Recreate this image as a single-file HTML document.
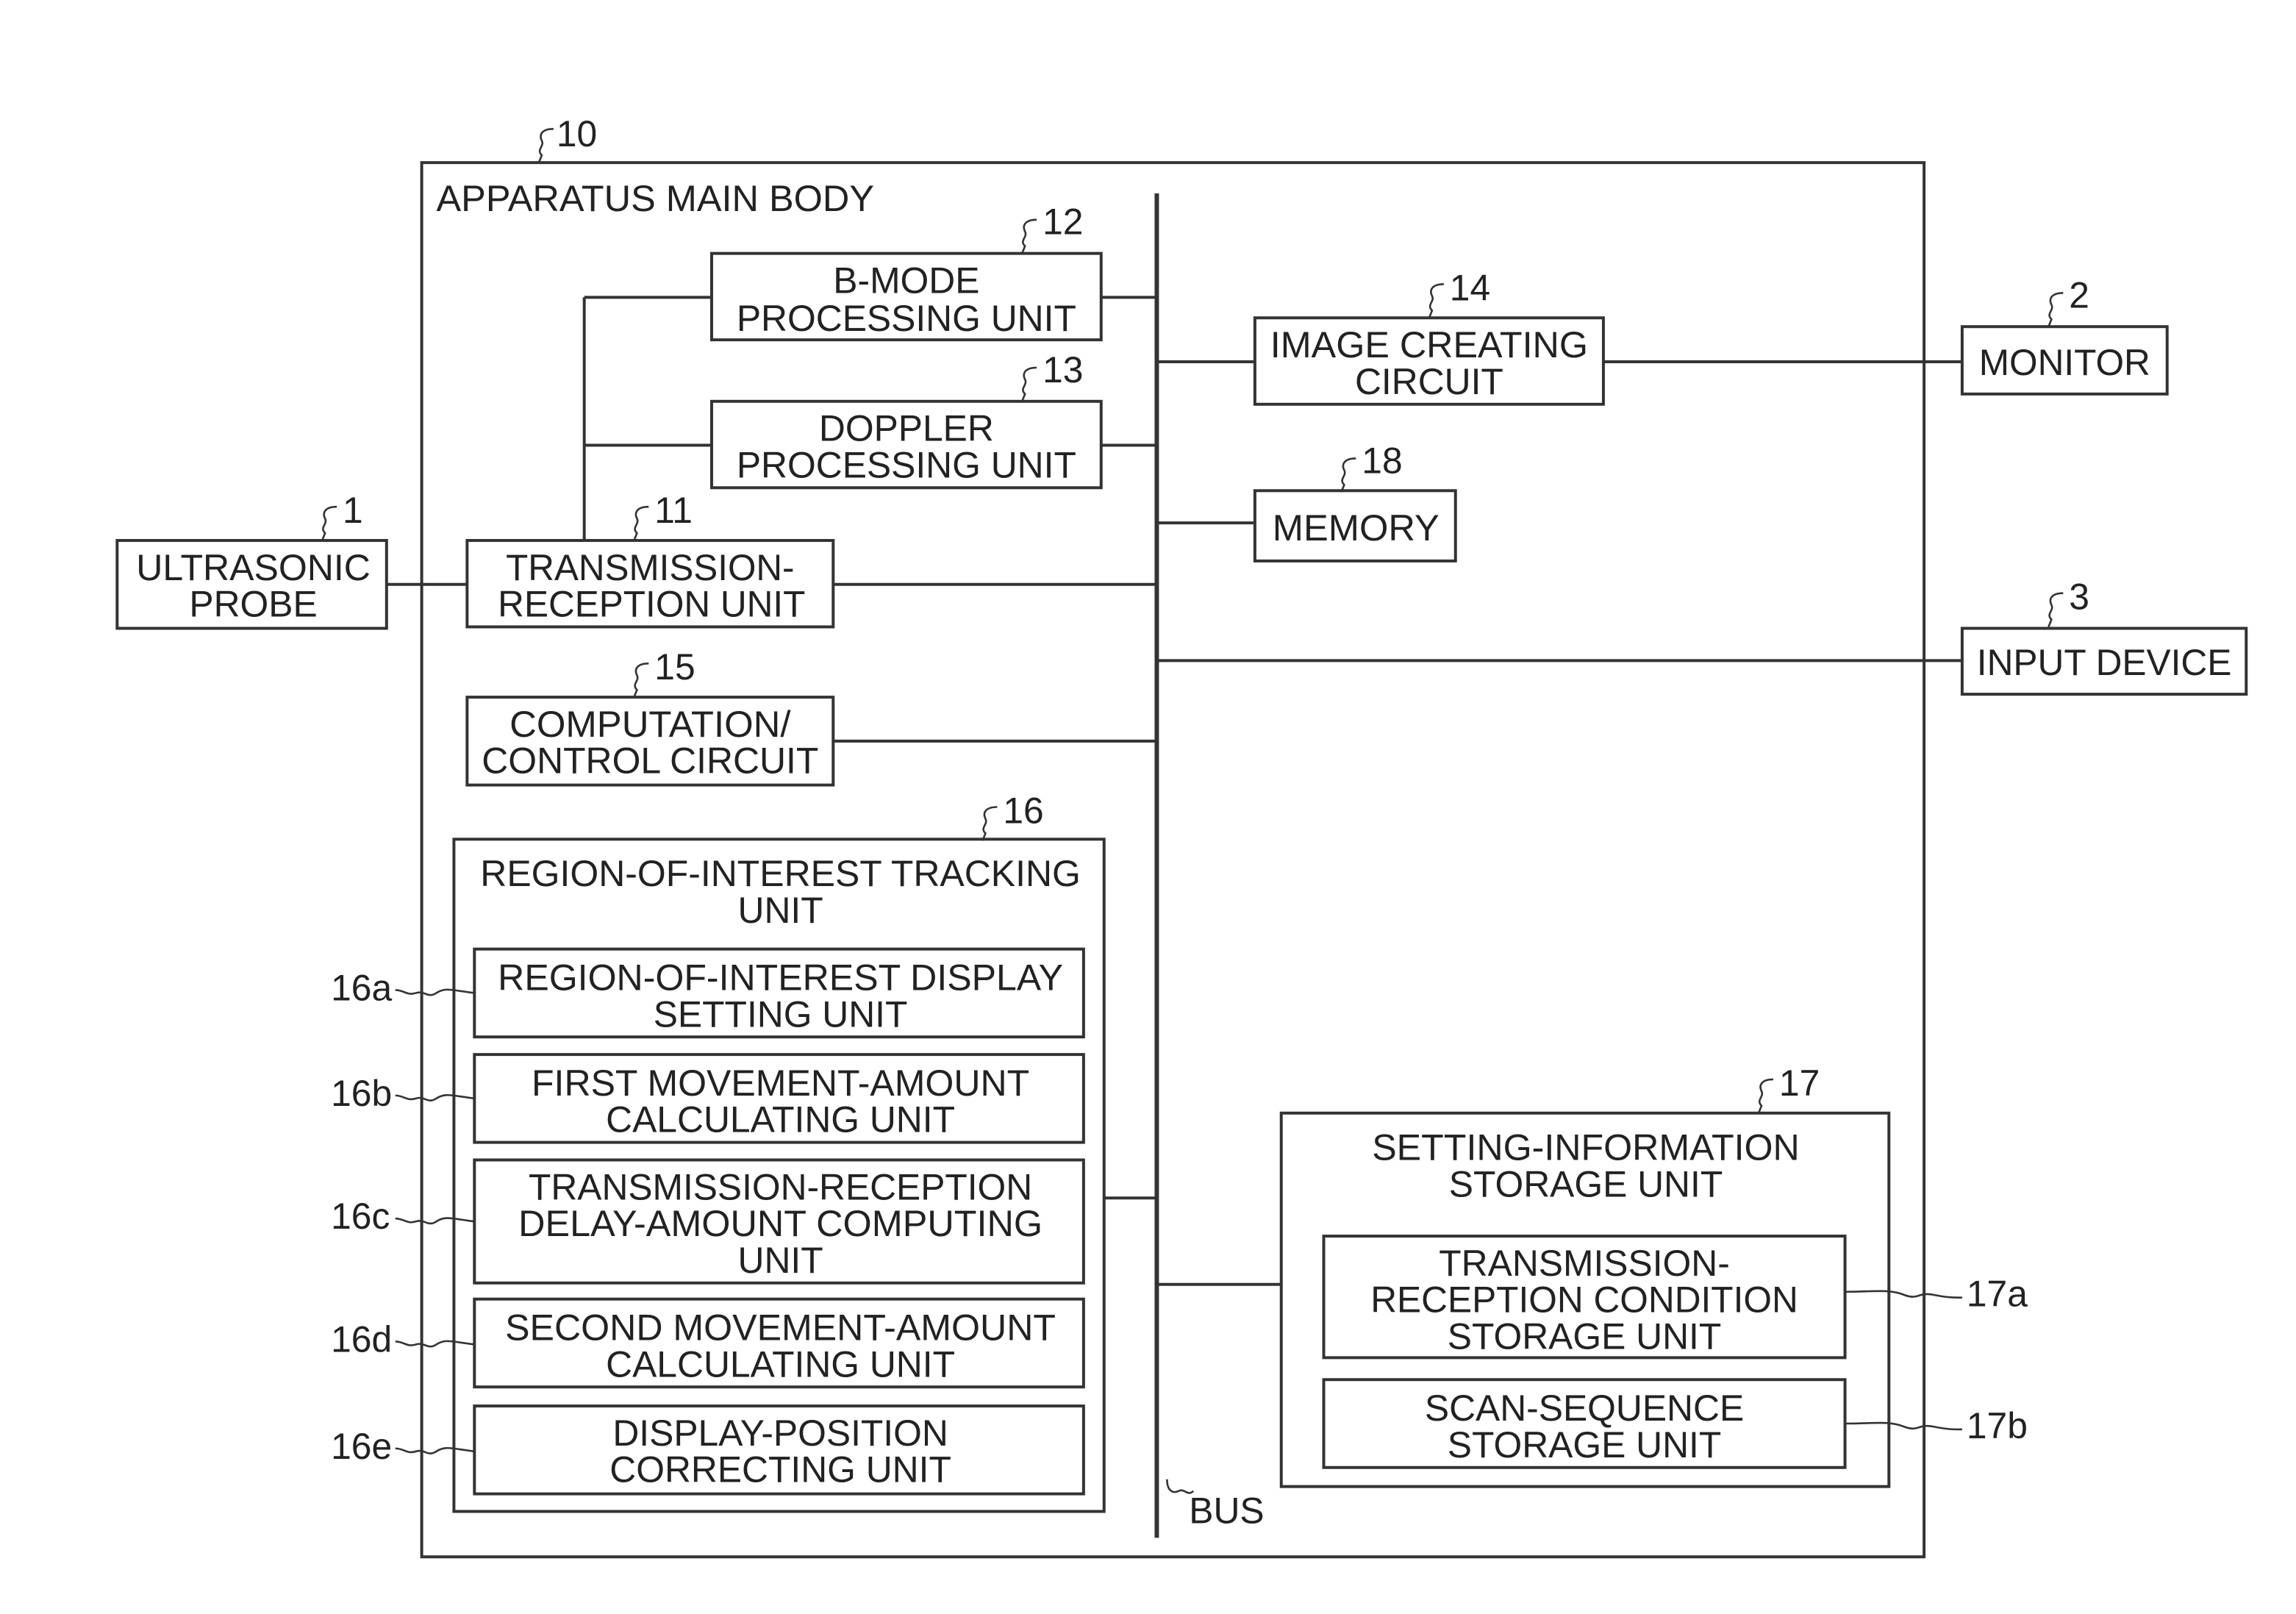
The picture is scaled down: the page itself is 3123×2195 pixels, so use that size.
<!DOCTYPE html>
<html><head><meta charset="utf-8"><style>html,body{margin:0;padding:0;background:#fff}svg{display:block}text{font-family:"Liberation Sans",sans-serif;font-size:25px;fill:#222}</style></head><body>
<svg width="3123" height="2195" viewBox="0 0 1568 1102" xmlns="http://www.w3.org/2000/svg">
<g fill="none" stroke="#333" stroke-width="2">
<rect x="288" y="111" width="1026" height="952"/>
<line x1="790" y1="132" x2="790" y2="1050" stroke-width="3"/>
<rect x="486" y="173" width="266" height="59"/>
<rect x="486" y="274" width="266" height="59"/>
<rect x="319" y="369" width="250" height="59"/>
<rect x="80" y="369" width="184" height="60"/>
<rect x="319" y="476" width="250" height="60"/>
<rect x="857" y="217" width="238" height="59"/>
<rect x="1340" y="223" width="140" height="46"/>
<rect x="857" y="335" width="137" height="48"/>
<rect x="1340" y="429" width="194" height="45"/>
<rect x="310" y="573" width="444" height="459"/>
<rect x="324" y="648" width="416" height="60"/>
<rect x="324" y="720" width="416" height="60"/>
<rect x="324" y="792" width="416" height="84"/>
<rect x="324" y="887" width="416" height="60"/>
<rect x="324" y="960" width="416" height="60"/>
<rect x="875" y="760" width="415" height="255"/>
<rect x="904" y="844" width="356" height="83"/>
<rect x="904" y="942" width="356" height="60"/>
<path d="M752 203H790M399 203H486M399 203V369M399 304H486M752 304H790M569 399H790M264 399H319M569 506H790M790 247H857M1095 247H1340M790 357H857M790 451H1340M754 818H790M790 877H875"/>
<g stroke-width="1.3">
<path d="M378 88c-8 0-10 4-8 8s-4 6 0 10l-2 5"/>
<path d="M708 150c-8 0-10 4-8 8s-4 6 0 10l-2 5"/>
<path d="M708 251c-8 0-10 4-8 8s-4 6 0 10l-2 5"/>
<path d="M443 346c-8 0-10 4-8 8s-4 6 0 10l-2 5"/>
<path d="M230 346c-8 0-10 4-8 8s-4 6 0 10l-2 5"/>
<path d="M443 453c-8 0-10 4-8 8s-4 6 0 10l-2 5"/>
<path d="M986 194c-8 0-10 4-8 8s-4 6 0 10l-2 5"/>
<path d="M1409 200c-8 0-10 4-8 8s-4 6 0 10l-2 5"/>
<path d="M926 313c-8 0-10 4-8 8s-4 6 0 10l-2 5"/>
<path d="M1409 405c-8 0-10 4-8 8s-4 6 0 10l-2 5"/>
<path d="M681 551c-8 0-10 4-8 8s-4 6 0 10l-2 5"/>
<path d="M1211 737c-8 0-10 4-8 8s-4 6 0 10l-2 5"/>
<path d="M797 1010c0 8 4 10 8 8s6 4 10 0"/>
<path d="M270 676c6 0 8 4 14 2s8 4 14 0 10-2 26 0"/>
<path d="M270 748c6 0 8 4 14 2s8 4 14 0 10-2 26 0"/>
<path d="M270 832c6 0 8 4 14 2s8 4 14 0 10-2 26 0"/>
<path d="M270 916c6 0 8 4 14 2s8 4 14 0 10-2 26 0"/>
<path d="M270 989c6 0 8 4 14 2s8 4 14 0 10-2 26 0"/>
<path d="M1260 882c20 0 30-2 40 2s10-2 20 0 14 2 20 2"/>
<path d="M1260 972c20 0 30-2 40 2s10-2 20 0 14 2 20 2"/>
</g>
</g>
<g>
<text x="380" y="100">10</text>
<text x="298" y="144" textLength="299" lengthAdjust="spacingAndGlyphs">APPARATUS MAIN BODY</text>
<text x="712" y="160">12</text>
<text x="712" y="261">13</text>
<text x="447" y="357">11</text>
<text x="234" y="357">1</text>
<text x="447" y="464">15</text>
<text x="990" y="205">14</text>
<text x="1413" y="210">2</text>
<text x="930" y="323">18</text>
<text x="1413" y="416">3</text>
<text x="685" y="562">16</text>
<text x="1215" y="748">17</text>
<text x="812" y="1040">BUS</text>
<text x="226" y="683">16a</text>
<text x="226" y="755">16b</text>
<text x="226" y="839">16c</text>
<text x="226" y="923">16d</text>
<text x="226" y="996">16e</text>
<text x="1343" y="892">17a</text>
<text x="1343" y="982">17b</text>
</g>
<g text-anchor="middle">
<text x="619" y="200">B-MODE</text>
<text x="619" y="226" textLength="232" lengthAdjust="spacingAndGlyphs">PROCESSING UNIT</text>
<text x="619" y="301">DOPPLER</text>
<text x="619" y="326" textLength="232" lengthAdjust="spacingAndGlyphs">PROCESSING UNIT</text>
<text x="444" y="396" textLength="197" lengthAdjust="spacingAndGlyphs">TRANSMISSION-</text>
<text x="445" y="421" textLength="210" lengthAdjust="spacingAndGlyphs">RECEPTION UNIT</text>
<text x="173" y="396" textLength="160" lengthAdjust="spacingAndGlyphs">ULTRASONIC</text>
<text x="173" y="421">PROBE</text>
<text x="444" y="503" textLength="192" lengthAdjust="spacingAndGlyphs">COMPUTATION/</text>
<text x="444" y="528" textLength="230" lengthAdjust="spacingAndGlyphs">CONTROL CIRCUIT</text>
<text x="976" y="244" textLength="217" lengthAdjust="spacingAndGlyphs">IMAGE CREATING</text>
<text x="976" y="269">CIRCUIT</text>
<text x="1410" y="256" textLength="117" lengthAdjust="spacingAndGlyphs">MONITOR</text>
<text x="926" y="369" textLength="114" lengthAdjust="spacingAndGlyphs">MEMORY</text>
<text x="1437" y="461" textLength="174" lengthAdjust="spacingAndGlyphs">INPUT DEVICE</text>
<text x="533" y="605" textLength="410" lengthAdjust="spacingAndGlyphs">REGION-OF-INTEREST TRACKING</text>
<text x="533" y="630">UNIT</text>
<text x="533" y="676" textLength="386" lengthAdjust="spacingAndGlyphs">REGION-OF-INTEREST DISPLAY</text>
<text x="533" y="701">SETTING UNIT</text>
<text x="533" y="748" textLength="340" lengthAdjust="spacingAndGlyphs">FIRST MOVEMENT-AMOUNT</text>
<text x="533" y="773">CALCULATING UNIT</text>
<text x="533" y="819" textLength="344" lengthAdjust="spacingAndGlyphs">TRANSMISSION-RECEPTION</text>
<text x="533" y="844" textLength="358" lengthAdjust="spacingAndGlyphs">DELAY-AMOUNT COMPUTING</text>
<text x="533" y="869">UNIT</text>
<text x="533" y="915" textLength="376" lengthAdjust="spacingAndGlyphs">SECOND MOVEMENT-AMOUNT</text>
<text x="533" y="940">CALCULATING UNIT</text>
<text x="533" y="987">DISPLAY-POSITION</text>
<text x="533" y="1012">CORRECTING UNIT</text>
<text x="1083" y="792" textLength="292" lengthAdjust="spacingAndGlyphs">SETTING-INFORMATION</text>
<text x="1083" y="817">STORAGE UNIT</text>
<text x="1082" y="871">TRANSMISSION-</text>
<text x="1082" y="896" textLength="292" lengthAdjust="spacingAndGlyphs">RECEPTION CONDITION</text>
<text x="1082" y="921">STORAGE UNIT</text>
<text x="1082" y="970">SCAN-SEQUENCE</text>
<text x="1082" y="995">STORAGE UNIT</text>
</g>
</svg>
</body></html>
